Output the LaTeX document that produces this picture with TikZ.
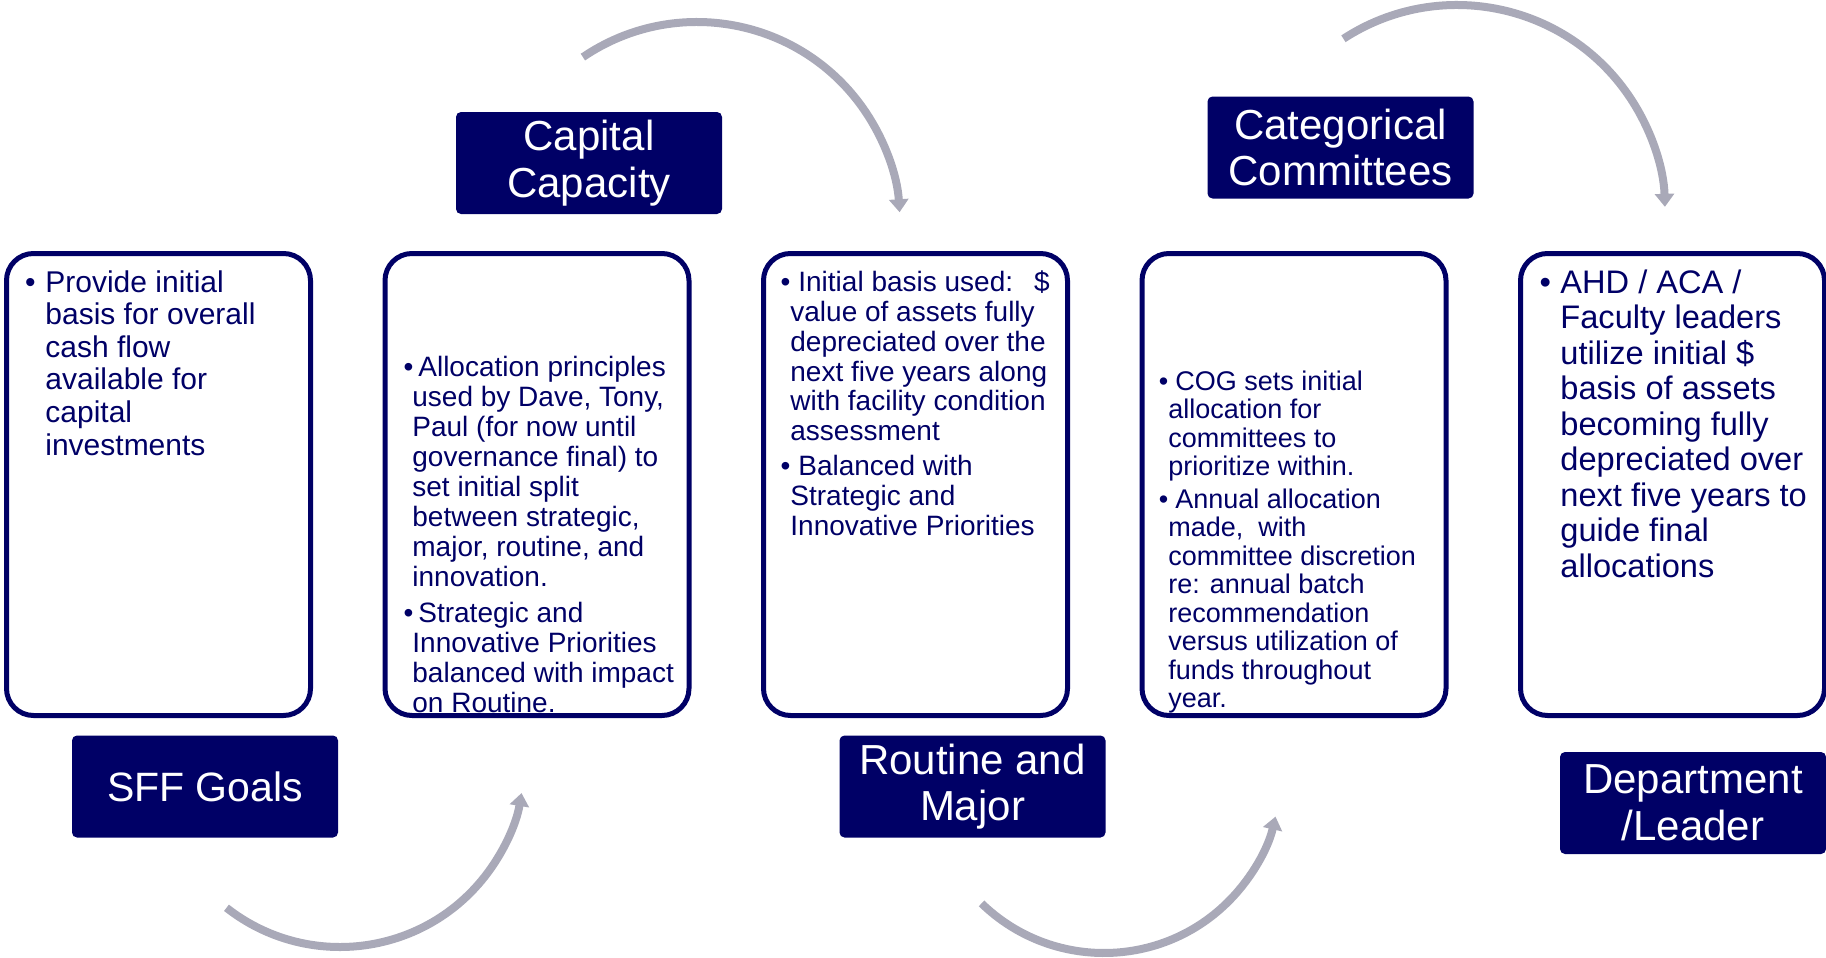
\documentclass[tikz,border=0pt]{standalone}
\usepackage{fontspec}
\setmainfont{Liberation Sans}
\usetikzlibrary{arrows.meta}
\definecolor{navy}{HTML}{000066}
\definecolor{flowgray}{HTML}{A9A9B8}
% bullet hung to the left of the line start
\newcommand\bul[1]{\makebox[0pt][r]{\textbullet\hspace{#1}}}
\begin{document}
\begin{tikzpicture}[x=0.5pt,y=-0.5pt,
  stagebox/.style={draw=navy,line width=2.5pt,rounded corners=13.5pt,
    minimum width=152pt,minimum height=231pt,inner sep=0pt},
  tag/.style={fill=navy,text=white,rounded corners=2.5pt,minimum width=133pt,
    minimum height=51pt,inner sep=0pt,align=center,
    font=\fontsize{21pt}{23.3pt}\selectfont},
  % text blocks are placed by the baseline of their last line
  body/.style={text=navy,align=left,anchor=base west,inner sep=0pt},
  flow/.style={draw=flowgray,line width=4pt,-{Triangle[width=9.5pt,length=6.5pt]}}]
\useasboundingbox (0,0) rectangle (1826,958);

% stage boxes
\node[stagebox] (b1) at (158.5,484.5) {};
\node[stagebox] (b2) at (537,484.5) {};
\node[stagebox] (b3) at (915.5,484.5) {};
\node[stagebox] (b4) at (1294,484.5) {};
\node[stagebox] (b5) at (1672.5,484.5) {};

% stage texts
\node[body,font=\fontsize{15pt}{16.3pt}\selectfont] (t1) at (45,455)
  {\bul{4.9pt}Provide initial\\basis for overall\\cash flow\\available for\\capital\\investments};
\node[body,font=\fontsize{14pt}{14.95pt}\selectfont] (t2) at (412,712)
  {\hspace*{3pt}\bul{2.5pt}Allocation principles\\used by Dave, Tony,\\Paul (for now until\\governance final) to\\set initial split\\between strategic,\\major, routine, and\\innovation.\\[3.2pt]
   \hspace*{3pt}\bul{2.5pt}Strategic and\\Innovative Priorities\\balanced with impact\\on Routine.};
\node[body,font=\fontsize{14pt}{14.9pt}\selectfont] (t3) at (790,535)
  {\hspace*{4pt}\bul{4pt}Initial basis used:\hspace{10.5pt}\$\\value of assets fully\\depreciated over the\\next five years along\\with facility condition\\assessment\\[2.5pt]
   \hspace*{4pt}\bul{4pt}Balanced with\\Strategic and\\Innovative Priorities};
\node[body,font=\fontsize{13.5pt}{14.25pt}\selectfont] (t4) at (1168,707.5)
  {\hspace*{3.5pt}\bul{3.6pt}COG sets initial\\allocation for\\committees to\\prioritize within.\\[2pt]
   \hspace*{3.5pt}\bul{3.6pt}Annual allocation\\made,~ with\\committee discretion\\re: annual batch\\recommendation\\versus utilization of\\funds throughout\\year.};
\node[body,font=\fontsize{16.3pt}{17.75pt}\selectfont] (t5) at (1560,577)
  {\bul{4.65pt}AHD / ACA /\\Faculty leaders\\utilize initial \$\\basis of assets\\becoming fully\\depreciated over\\next five years to\\guide final\\allocations};

% stage labels
\node[tag,font=\fontsize{20.5pt}{23pt}\selectfont] (l1) at (205,786.5) {SFF Goals};
\node[tag] (l2) at (589,163) {Capital\\Capacity};
\node[tag] (l3) at (972.5,786.5) {Routine and\\Major};
\node[tag] (l4) at (1340.5,147.5) {Categorical\\Committees};
\node[tag] (l5) at (1693,803) {Department\\/Leader};

% curved flow arrows
\coordinate (c1) at (340,763);
\coordinate (c2) at (697,225);
\coordinate (c3) at (1104,777);
\coordinate (c4) at (1457,213);
\draw[flow] ([shift={(231.9:92pt)}]c1) arc[start angle=231.9,end angle=350.6,radius=92pt];
\draw[flow] ([shift={(124.2:101.5pt)}]c2) arc[start angle=124.2,end angle=3.6,radius=101.5pt];
\draw[flow] ([shift={(225.9:88pt)}]c3) arc[start angle=225.9,end angle=347,radius=88pt];
\draw[flow] ([shift={(123.1:104pt)}]c4) arc[start angle=123.1,end angle=1.7,radius=104pt];
\end{tikzpicture}
\end{document}
